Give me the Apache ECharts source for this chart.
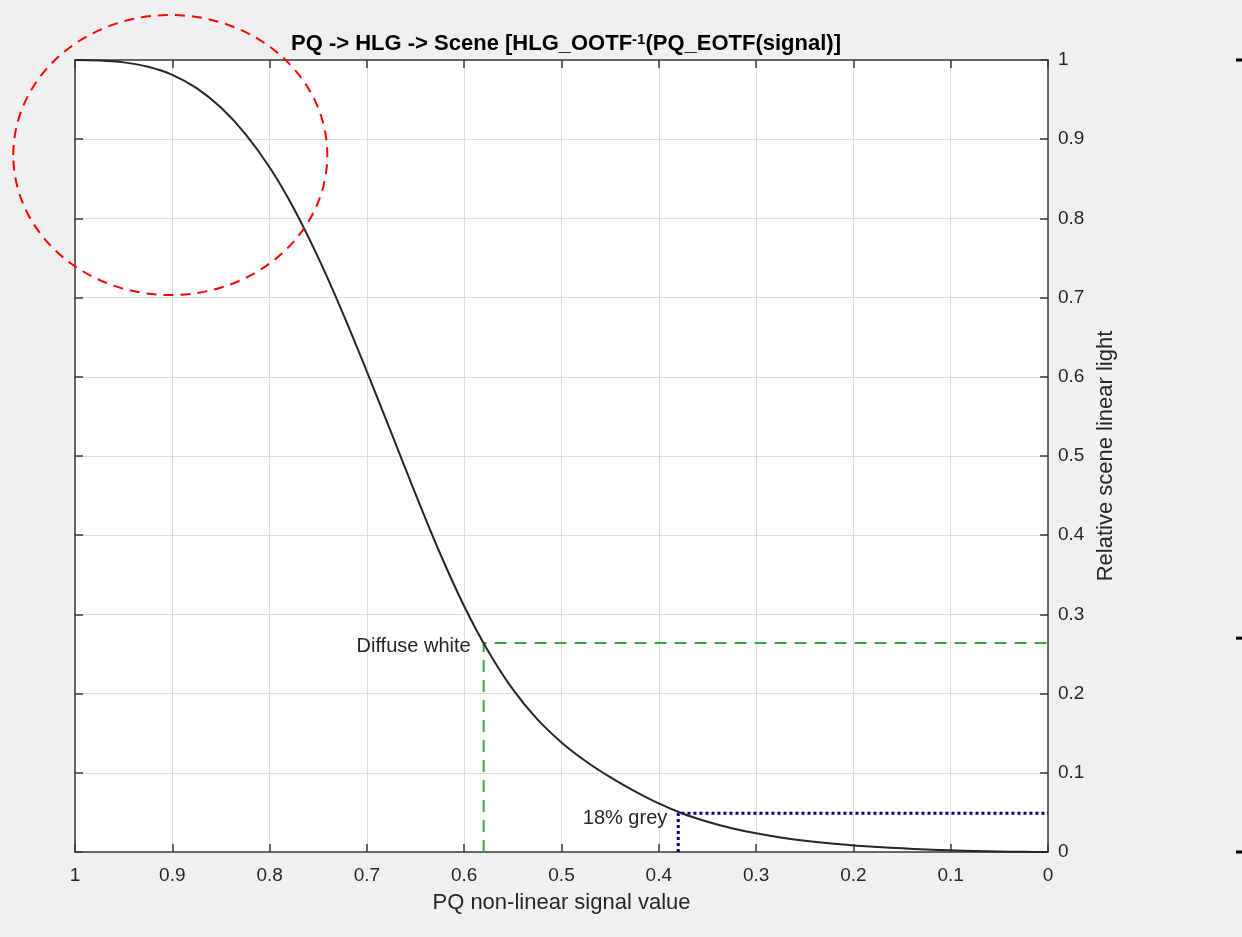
<!DOCTYPE html>
<html>
<head>
<meta charset="utf-8">
<title>PQ -> HLG -> Scene</title>
<script src="https://cdn.jsdelivr.net/npm/echarts@6/dist/echarts.min.js"></script>
<style>
  html, body { margin: 0; padding: 0; background: #f0f0f0; }
  #chart { width: 1242px; height: 937px; }
</style>
</head>
<body>
<div id="chart"></div>
<script>
// 曲线数据 (从图上读取, x 为 PQ 信号值)
const signalValues = [1.000, 0.975, 0.950, 0.925, 0.900, 0.875, 0.850, 0.825, 0.800, 0.775, 0.750, 0.725, 0.700, 0.675, 0.650, 0.625, 0.600, 0.575, 0.550, 0.525, 0.500, 0.475, 0.450, 0.425, 0.400, 0.375, 0.350, 0.325, 0.300, 0.275, 0.250, 0.225, 0.200, 0.175, 0.150, 0.125, 0.100, 0.075, 0.050, 0.025, 0.000]
const sceneLight = [1.000, 0.9994, 0.9970, 0.9915, 0.9813, 0.9645, 0.9399, 0.9068, 0.8645, 0.8123, 0.7504, 0.6810, 0.6066, 0.5295, 0.4520, 0.3775, 0.3103, 0.2528, 0.2053, 0.1678, 0.1384, 0.1146, 0.0945, 0.0770, 0.0614, 0.0483, 0.0382, 0.0301, 0.0236, 0.0184, 0.0142, 0.0109, 0.0083, 0.0062, 0.0046, 0.0033, 0.0021, 0.0012, 0.0006, 0.0002, 0.000]

// 参考点
const diffuseWhite = [0.58, 0.264]
const greyPoint = [0.38, 0.049]

const fontFamily = '"Liberation Sans", Arial, Helvetica, sans-serif'
const axisColor = '#3a3a3a'
const textColor = '#262626'

const chartInstance = echarts.init(document.getElementById('chart'))

const curveData = signalValues.map((x, i) => [x, sceneLight[i]])

// 边框四条轴共用的样式
const frameAxis = (type, position, showLabel) => ({
  type: 'value',
  position: position,
  min: 0,
  max: 1,
  interval: 0.1,
  inverse: type === 'x',
  axisLine: { show: true, onZero: false, lineStyle: { color: axisColor, width: 1.5 } },
  axisTick: { show: true, inside: true, length: 8, lineStyle: { color: axisColor, width: 1.5 } },
  axisLabel: {
    show: showLabel,
    color: textColor,
    fontFamily: fontFamily,
    fontSize: 19,
    margin: type === 'x' ? 14 : 10,
    formatter: (v) => String(Math.round(v * 10) / 10),
  },
  splitLine: { show: showLabel, lineStyle: { color: '#dedede', width: 1 } },
})

const xBottom = frameAxis('x', 'bottom', true)
xBottom.name = 'PQ non-linear signal value'
xBottom.nameLocation = 'middle'
xBottom.nameGap = 40
xBottom.nameTextStyle = { color: textColor, fontFamily: fontFamily, fontSize: 22 }

const yRight = frameAxis('y', 'right', true)
yRight.name = 'Relative scene linear light'
yRight.nameLocation = 'middle'
yRight.nameGap = 46
yRight.nameRotate = 90
yRight.nameTextStyle = { color: textColor, fontFamily: fontFamily, fontSize: 22 }

const options = {
  backgroundColor: '#f0f0f0',
  animation: false,
  title: {
    text: 'PQ -> HLG -> Scene [HLG_OOTF{sup|-1}(PQ_EOTF(signal)]',
    left: 561,
    top: 27,
    textAlign: 'center',
    textStyle: {
      color: '#000',
      fontFamily: fontFamily,
      fontSize: 22,
      fontWeight: 'bold',
      rich: {
        sup: { fontSize: 15, fontWeight: 'bold', fontFamily: fontFamily, color: '#000', verticalAlign: 'top', padding: [0, 0, 9, 0] },
      },
    },
  },
  grid: {
    left: 75,
    right: 194,
    top: 60,
    bottom: 85,
    show: true,
    backgroundColor: '#ffffff',
    borderWidth: 0,
  },
  xAxis: [xBottom, frameAxis('x', 'top', false)],
  yAxis: [yRight, frameAxis('y', 'left', false)],
  series: [
    {
      // 主曲线
      type: 'line',
      data: curveData,
      smooth: 0.3,
      showSymbol: false,
      lineStyle: { color: '#262626', width: 2, join: 'round' },
      z: 5,
    },
    {
      // Diffuse white 虚线
      type: 'line',
      data: [[diffuseWhite[0], 0], diffuseWhite, [0, diffuseWhite[1]]],
      showSymbol: false,
      symbol: 'none',
      lineStyle: { color: '#3ca43c', width: 2, type: [12, 8] },
      markPoint: {
        symbol: 'circle',
        symbolSize: 0,
        data: [{ coord: diffuseWhite }],
        label: {
          show: true,
          position: 'left',
          distance: 13,
          offset: [0, 4],
          formatter: 'Diffuse white',
          color: textColor,
          fontFamily: fontFamily,
          fontSize: 20,
        },
      },
      z: 4,
    },
    {
      // 18% grey 点线
      type: 'line',
      data: [[greyPoint[0], 0], greyPoint, [0, greyPoint[1]]],
      showSymbol: false,
      symbol: 'none',
      lineStyle: { color: '#00008b', width: 3, type: [3, 3] },
      markPoint: {
        symbol: 'circle',
        symbolSize: 0,
        data: [{ coord: greyPoint }],
        label: {
          show: true,
          position: 'left',
          distance: 11,
          offset: [0, 5],
          formatter: '18% grey',
          color: textColor,
          fontFamily: fontFamily,
          fontSize: 20,
        },
      },
      z: 4,
    },
  ],
}

chartInstance.setOption(options)

// 红色虚线椭圆标注 + 右侧小刻度
const center = chartInstance.convertToPixel({ xAxisIndex: 0, yAxisIndex: 0 }, [0.9, 0.88])
const sideMarks = [1, 0.27, 0].map((v) => {
  const p = chartInstance.convertToPixel({ xAxisIndex: 0, yAxisIndex: 0 }, [0, v])
  return {
    type: 'rect',
    shape: { x: 1236, y: p[1] - 1.5, width: 6, height: 3 },
    style: { fill: '#000' },
  }
})
chartInstance.setOption({
  graphic: [
    {
      type: 'ellipse',
      shape: { cx: center[0] - 2, cy: center[1], rx: 157, ry: 140 },
      style: { fill: 'none', stroke: '#ff0000', lineWidth: 2, lineDash: [10, 7] },
      z: 100,
    },
  ].concat(sideMarks),
})
</script>
</body>
</html>
